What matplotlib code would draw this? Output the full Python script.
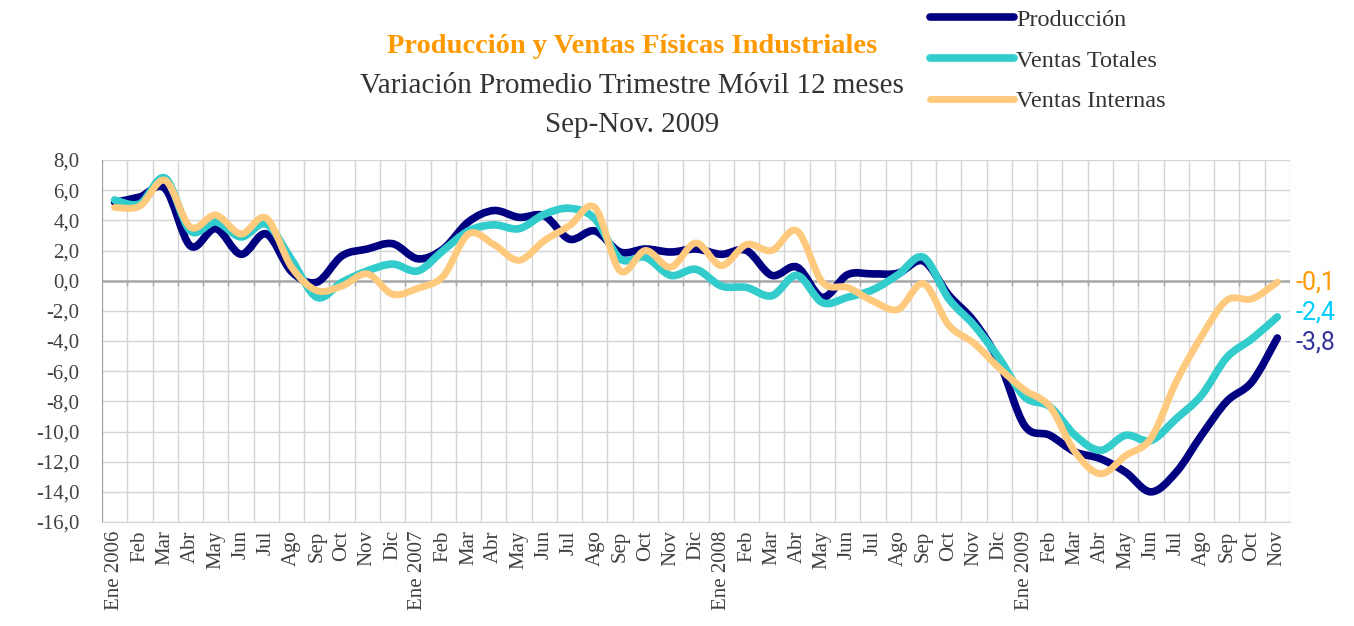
import numpy as np
import matplotlib
matplotlib.use("Agg")
import matplotlib.pyplot as plt
from matplotlib.path import Path
from matplotlib.patches import PathPatch
from matplotlib.lines import Line2D
from matplotlib.ticker import FuncFormatter

# datos (variación %, promedio trimestre móvil 12 meses)
meses = ["Ene", "Feb", "Mar", "Abr", "May", "Jun", "Jul", "Ago", "Sep", "Oct", "Nov", "Dic"]
anios = [2006, 2007, 2008, 2009]
etiquetas = [f"{m} {a}" if m == "Ene" else m for a in anios for m in meses][:47]

produccion = [5.2, 5.55, 6.1, 2.3, 3.45, 1.75, 3.1, 0.6, -0.1, 1.65, 2.1, 2.45,
              1.45, 2.1, 3.9, 4.65, 4.2, 4.3, 2.75, 3.3, 1.9, 2.1, 1.9, 2.1,
              1.75, 2.0, 0.35, 0.9, -1.1, 0.4, 0.45, 0.5, 1.3, -0.95, -2.7, -5.4,
              -9.6, -10.25, -11.35, -11.8, -12.7, -14.0, -12.7, -10.25, -8.0, -6.7, -3.8]

ventas_totales = [5.35, 5.1, 6.8, 3.3, 3.9, 2.9, 3.75, 1.4, -1.1, -0.1, 0.65, 1.1,
                  0.65, 2.0, 3.3, 3.7, 3.45, 4.4, 4.8, 4.1, 1.45, 1.55, 0.35, 0.75,
                  -0.35, -0.45, -1.0, 0.35, -1.45, -1.1, -0.6, 0.4, 1.55, -1.2, -2.95, -5.15,
                  -7.7, -8.35, -10.25, -11.25, -10.25, -10.6, -9.15, -7.6, -5.1, -3.85, -2.4]

ventas_internas = [4.85, 4.95, 6.65, 3.55, 4.35, 3.1, 4.15, 0.9, -0.65, -0.35, 0.45, -0.9,
                   -0.5, 0.3, 3.1, 2.4, 1.35, 2.65, 3.65, 4.85, 0.65, 2.0, 0.9, 2.5,
                   1.0, 2.4, 2.0, 3.3, -0.1, -0.45, -1.35, -1.9, -0.2, -2.95, -4.15, -5.8,
                   -7.25, -8.35, -11.35, -12.8, -11.6, -10.45, -6.7, -3.7, -1.3, -1.2, -0.1]

series = [
    ("Producción", produccion, "#000080", 5.5, "#333399"),
    ("Ventas Totales", ventas_totales, "#33CCCC", 5.5, "#00CCFF"),
    ("Ventas Internas", ventas_internas, "#FFCA7D", 5.0, "#FF9900"),
]
# separación vertical (puntos) de las etiquetas del último dato
ajuste_etiqueta = [-3, 3, 0]


def curva_suave(xs, ys):
    # línea suavizada tipo Excel (bezier que pasa por cada punto)
    n = len(xs)
    verts = [(xs[0], ys[0])]
    codes = [Path.MOVETO]
    for i in range(n - 1):
        a = max(i - 1, 0)
        b = min(i + 2, n - 1)
        c1 = (xs[i] + (xs[i + 1] - xs[a]) / 6, ys[i] + (ys[i + 1] - ys[a]) / 6)
        c2 = (xs[i + 1] - (xs[b] - xs[i]) / 6, ys[i + 1] - (ys[b] - ys[i]) / 6)
        verts += [c1, c2, (xs[i + 1], ys[i + 1])]
        codes += [Path.CURVE4] * 3
    return Path(verts, codes)


plt.rcParams["font.family"] = ["Liberation Serif", "DejaVu Serif"]

fig = plt.figure(figsize=(13.54, 6.26), dpi=100)
ax = fig.add_axes([0.0753, 0.1661, 0.8774, 0.5783])

x = np.arange(len(etiquetas))
limites = np.arange(len(etiquetas) + 1) - 0.5

# grilla
ax.set_xlim(-0.5, len(etiquetas) - 0.5)
ax.set_ylim(-16, 8)
ax.set_yticks(np.arange(-16, 9, 2))
ax.set_xticks(x)
ax.set_xticks(limites, minor=True)
ax.grid(True, axis="y", which="major", color="#D4D4D4", lw=1.0)
ax.grid(True, axis="x", which="minor", color="#D4D4D4", lw=1.0)
ax.set_axisbelow(True)
ax.axhline(0, color="#A8A8A8", lw=1.8, zorder=1)
ax.vlines(limites[1:-1], -0.35, 0, color="#A8A8A8", lw=1.0, zorder=1)

for s in ["top", "right"]:
    ax.spines[s].set_visible(False)
ax.spines["left"].set_color("#A0A0A0")
ax.spines["bottom"].set_color("#D4D4D4")

ax.yaxis.set_major_formatter(FuncFormatter(lambda v, p: f"{v:.1f}".replace(".", ",")))
ax.set_xticklabels(etiquetas, rotation=90)
ax.tick_params(axis="both", which="both", length=0, labelsize=15, colors="#404040")
ax.tick_params(axis="y", pad=16)
ax.tick_params(axis="x", pad=6)

handles = []
for i, (nombre, vals, color, lw, color_lbl) in enumerate(series):
    patch = PathPatch(curva_suave(x, vals), fill=False, edgecolor=color, lw=lw,
                      capstyle="round", joinstyle="round", zorder=3 + i)
    ax.add_patch(patch)
    handles.append(Line2D([], [], color=color, lw=lw, solid_capstyle="round"))
    ax.annotate(f"{vals[-1]:.1f}".replace(".", ","), xy=(x[-1], vals[-1]),
                xytext=(13, ajuste_etiqueta[i]), textcoords="offset points",
                va="center", ha="left", fontsize=18, color=color_lbl,
                family=["Roboto", "DejaVu Sans"], annotation_clip=False)

# títulos
fig.text(0.467, 0.926, "Producción y Ventas Físicas Industriales", ha="center", va="center",
         fontsize=20.5, fontweight="bold", color="#FF9900")
fig.text(0.467, 0.862, "Variación Promedio Trimestre Móvil 12 meses", ha="center", va="center",
         fontsize=21, color="#333333")
fig.text(0.467, 0.800, "Sep-Nov. 2009", ha="center", va="center", fontsize=21, color="#333333")

fig.legend(handles, [s[0] for s in series], loc="upper left", bbox_to_anchor=(0.687, 0.986),
           frameon=False, fontsize=17.5, handlelength=3.45, handletextpad=0.1,
           labelspacing=0.77, borderpad=0, borderaxespad=0, labelcolor="#333333")

fig.savefig("out.png", dpi=100)
